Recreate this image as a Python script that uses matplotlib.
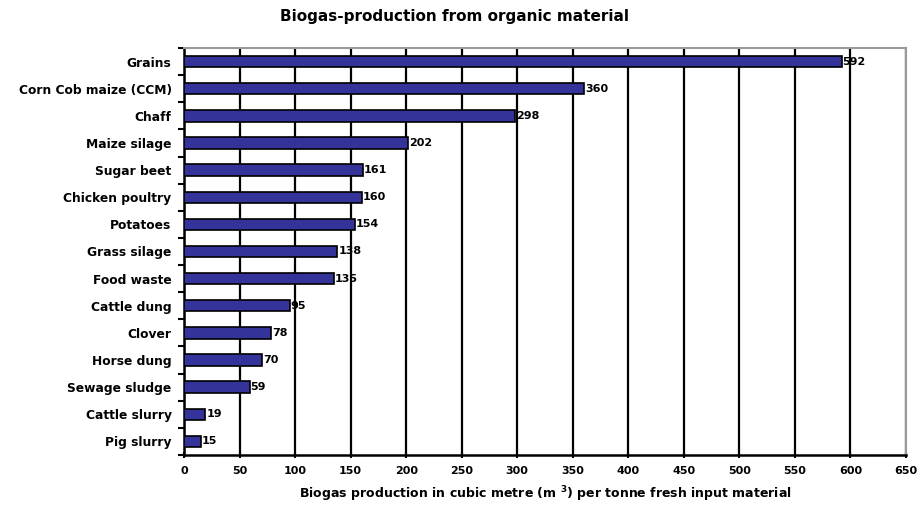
import matplotlib.pyplot as plt
import numpy as np

categories = ['Grains', 'Corn Cob maize (CCM)', 'Chaff', 'Maize silage', 'Sugar beet',
              'Chicken poultry', 'Potatoes', 'Grass silage', 'Food waste', 'Cattle dung',
              'Clover', 'Horse dung', 'Sewage sludge', 'Cattle slurry', 'Pig slurry']
values = [592, 360, 298, 202, 161, 160, 154, 138, 135, 95, 78, 70, 59, 19, 15]
x_ticks = list(range(0, 651, 50))

plt.rcParams['font.family'] = ['DejaVu Sans']
plt.rcParams['font.weight'] = 'bold'

fig = plt.figure(figsize=(9.21, 5.08), dpi=100)
ax = fig.add_axes([184 / 921, 1 - 455 / 508, (906 - 184) / 921, (455 - 48) / 508])

n = len(categories)
y = np.arange(n)[::-1]
ax.barh(y, values, height=0.42, color='#333399', edgecolor='black', linewidth=1.2, zorder=3)
for yi, v in zip(y, values):
    ax.text(v + 1, yi, str(v), va='center', ha='left', fontsize=8, fontweight='bold', zorder=4)

ax.set_xlim(0, 650)
ax.set_ylim(-0.5, n - 0.5)
ax.set_xticks(x_ticks)
ax.set_xticklabels([str(t) for t in x_ticks], fontsize=8, fontweight='bold')
ax.set_yticks(y)
ax.set_yticklabels(categories, fontsize=8.8, fontweight='bold')
ax.set_yticks(np.arange(-0.5, n, 1), minor=True)
ax.tick_params(axis='y', which='major', length=0, pad=9)
ax.tick_params(axis='y', which='minor', length=4, width=1.5, direction='out')
ax.tick_params(axis='x', which='major', length=4, width=1.5, direction='inout', pad=6)

ax.grid(axis='x', color='black', linewidth=1.6, zorder=1)
for side in ['top', 'right']:
    ax.spines[side].set_color('#999999')
    ax.spines[side].set_linewidth(1.5)
for side in ['left', 'bottom']:
    ax.spines[side].set_color('black')
    ax.spines[side].set_linewidth(1.8)

ax.set_xlabel('Biogas production in cubic metre (m $^{3}$) per tonne fresh input material',
              fontsize=9, fontweight='bold', labelpad=6)
fig.text(0.494, 1 - 16 / 508, 'Biogas-production from organic material', ha='center', va='center',
         fontsize=11, fontweight='bold')

fig.savefig('out.png', dpi=100)
